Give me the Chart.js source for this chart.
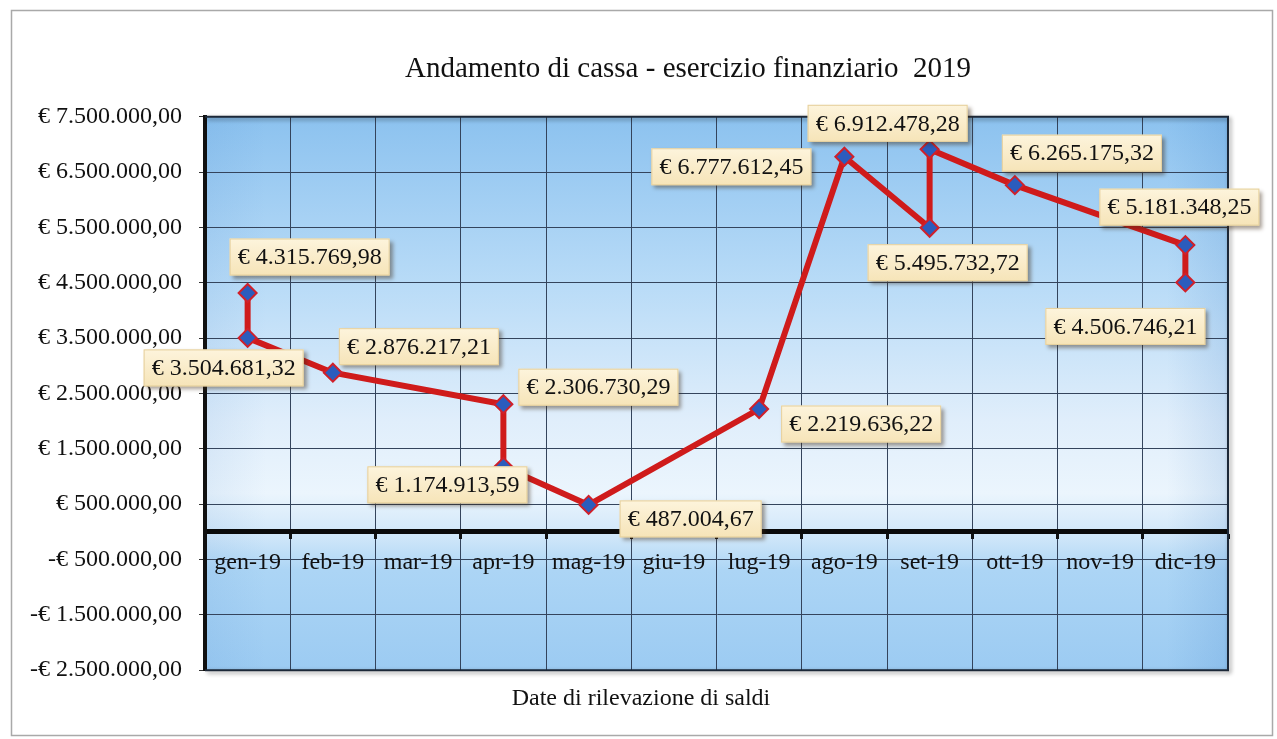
<!DOCTYPE html>
<html>
<head>
<meta charset="utf-8">
<script src="https://cdn.jsdelivr.net/npm/chart.js@4.4.1/dist/chart.umd.min.js"></script>
<style>
html,body{margin:0;padding:0;background:#fff;}
#wrap{width:1277px;height:739px;position:relative;}
</style>
</head>
<body>
<div id="wrap"><canvas id="c"></canvas></div>
<script>
// ---- data ----
const months = ['gen-19','feb-19','mar-19','apr-19','mag-19','giu-19','lug-19','ago-19','set-19','ott-19','nov-19','dic-19'];
const pointMonths = ['gen-19','gen-19','feb-19','apr-19','apr-19','mag-19','lug-19','ago-19','set-19','set-19','ott-19','dic-19','dic-19'];
const balances = [4315769.98, 3504681.32, 2876217.21, 2306730.29, 1174913.59, 487004.67, 2219636.22, 6777612.45, 5495732.72, 6912478.28, 6265175.32, 5181348.25, 4506746.21];
const yTickMin = -2500000;
const yTickMax = 7500000;
const yTickStep = 1000000;
const chartTitle = 'Andamento di cassa - esercizio finanziario  2019';
const axisTitle = 'Date di rilevazione di saldi';

function fmtEuro(v){
  const neg = v < 0;
  const parts = Math.abs(v).toFixed(2).split('.');
  const intPart = parts[0].replace(/\B(?=(\d{3})+(?!\d))/g, '.');
  return (neg ? '-' : '') + '€ ' + intPart + ',' + parts[1];
}

const SERIF = "'Liberation Serif', 'DejaVu Serif', serif";

const backgroundPlugin = {
  id: 'bgPlugin',
  afterLayout(chart, args, opts){
    chart.boxes.forEach(b => {
      if (b.options && b.options.text === chartTitle) { b.left += opts.titleShift; b.right += opts.titleShift; }
      if (b.options && b.options.text === axisTitle) { b.left += opts.subtitleShift; b.right += opts.subtitleShift; }
    });
  },
  beforeDraw(chart){
    const ctx = chart.ctx, a = chart.chartArea;
    ctx.save();
    ctx.fillStyle = '#ffffff';
    ctx.fillRect(0, 0, chart.width, chart.height);
    ctx.strokeStyle = '#a9a9a9';
    ctx.lineWidth = 1.5;
    ctx.strokeRect(11.5, 10.5, chart.width - 16, chart.height - 14);
    const g = ctx.createLinearGradient(0, a.top, 0, a.bottom);
    g.addColorStop(0, '#8cc2ef');
    g.addColorStop(0.3, '#b8dbf7');
    g.addColorStop(0.55, '#e0eefb');
    g.addColorStop(0.68, '#ebf5fd');
    g.addColorStop(0.76, '#cfe6f9');
    g.addColorStop(0.82, '#acd5f5');
    g.addColorStop(1, '#9ccbf2');
    ctx.fillStyle = g;
    ctx.fillRect(a.left, a.top, a.right - a.left, a.bottom - a.top);
    const h = ctx.createLinearGradient(a.left, 0, a.right, 0);
    h.addColorStop(0, 'rgba(40,110,190,0.08)');
    h.addColorStop(0.06, 'rgba(40,110,190,0)');
    h.addColorStop(0.94, 'rgba(40,110,190,0)');
    h.addColorStop(1, 'rgba(40,110,190,0.14)');
    ctx.fillStyle = h;
    ctx.fillRect(a.left, a.top, a.right - a.left, a.bottom - a.top);
    ctx.restore();
  },
  beforeDatasetsDraw(chart){
    const ctx = chart.ctx, a = chart.chartArea;
    ctx.save();
    ctx.shadowColor = 'rgba(0,0,0,0.45)';
    ctx.shadowBlur = 4;
    ctx.shadowOffsetX = 2;
    ctx.shadowOffsetY = 2;
    ctx.strokeStyle = '#1c2838';
    ctx.lineWidth = 2;
    ctx.beginPath();
    ctx.moveTo(a.left, a.top);
    ctx.lineTo(a.right, a.top);
    ctx.lineTo(a.right, a.bottom);
    ctx.lineTo(a.left, a.bottom);
    ctx.stroke();
    ctx.restore();
  }
};

const labelPlugin = {
  id: 'labelBoxes',
  afterDatasetsDraw(chart, args, opts){
    const ctx = chart.ctx;
    const meta = chart.getDatasetMeta(0);
    const values = chart.data.datasets[0].data;
    ctx.save();
    ctx.font = opts.font;
    meta.data.forEach((pt, i) => {
      const off = opts.offsets[i];
      const text = fmtEuro(values[i].y);
      const w = ctx.measureText(text).width + 2 * opts.padX;
      const h = opts.height;
      const cx = pt.x + off[0], cy = pt.y + off[1];
      const x = cx - w / 2, y = cy - h / 2;
      ctx.shadowColor = 'rgba(60,40,20,0.45)';
      ctx.shadowBlur = 4;
      ctx.shadowOffsetX = 3;
      ctx.shadowOffsetY = 3;
      const g = ctx.createLinearGradient(0, y, 0, y + h);
      g.addColorStop(0, '#fdf4dc');
      g.addColorStop(1, '#f6e4b8');
      ctx.fillStyle = g;
      ctx.fillRect(x, y, w, h);
      ctx.shadowColor = 'transparent';
      ctx.strokeStyle = '#e6d09c';
      ctx.lineWidth = 1;
      ctx.strokeRect(x + 0.5, y + 0.5, w - 1, h - 1);
      ctx.fillStyle = '#111';
      ctx.textAlign = 'center';
      ctx.textBaseline = 'middle';
      ctx.fillText(text, cx, cy + 1);
    });
    ctx.restore();
  }
};

new Chart(document.getElementById('c'), {
  type: 'line',
  data: {
    datasets: [{
      data: pointMonths.map((m, i) => ({ x: m, y: balances[i] })),
      borderColor: '#cf1b1b',
      borderWidth: 6,
      pointStyle: 'rectRot',
      pointRadius: 9,
      pointBackgroundColor: '#2b5cbd',
      pointBorderColor: '#d0202a',
      pointBorderWidth: 2,
      tension: 0,
      fill: false
    }]
  },
  options: {
    responsive: true,
    maintainAspectRatio: false,
    animation: false,
    layout: { padding: { left: 20, right: 49, top: 0, bottom: 15 } },
    plugins: {
      legend: { display: false },
      tooltip: { enabled: false },
      bgPlugin: { titleShift: 64, subtitleShift: 17 },
      title: {
        display: true,
        text: chartTitle,
        color: '#111',
        font: { family: SERIF, size: 29, weight: 'normal' },
        padding: { top: 52, bottom: 30 }
      },
      subtitle: {
        display: true,
        position: 'bottom',
        text: axisTitle,
        color: '#111',
        font: { family: SERIF, size: 24, weight: 'normal' },
        padding: { top: 14, bottom: 11 }
      },
      labelBoxes: {
        font: "24px 'Liberation Serif', serif",
        padX: 8,
        height: 37,
        offsets: [[62,-36],[-24,30],[86,-26],[95,-17],[-56,18],[102,14],[102,15],[-113,10],[18,35],[-42,-26],[67,-32],[-6,-38],[-60,44]]
      }
    },
    scales: {
      x: {
        type: 'category',
        labels: months,
        offset: true,
        position: { y: 0 },
        grid: { offset: true, color: '#34445c', lineWidth: 1, tickLength: 5, tickColor: '#111', tickWidth: 3 },
        border: { display: true, color: '#0a0a0a', width: 5 },
        ticks: { font: { family: SERIF, size: 24 }, color: '#111', padding: 11, maxRotation: 0, autoSkip: false },
        afterFit: s => { s.height = 0; }
      },
      y: {
        min: yTickMin,
        max: yTickMax,
        ticks: { stepSize: yTickStep, callback: v => fmtEuro(v), font: { family: SERIF, size: 24 }, color: '#111', padding: 17 },
        grid: { color: '#34445c', lineWidth: 1, tickLength: 6, tickColor: '#333' },
        border: { display: true, color: '#111', width: 4 },
        afterFit: s => { s.width = 185; }
      }
    }
  },
  plugins: [backgroundPlugin, labelPlugin]
});
</script>
</body>
</html>
